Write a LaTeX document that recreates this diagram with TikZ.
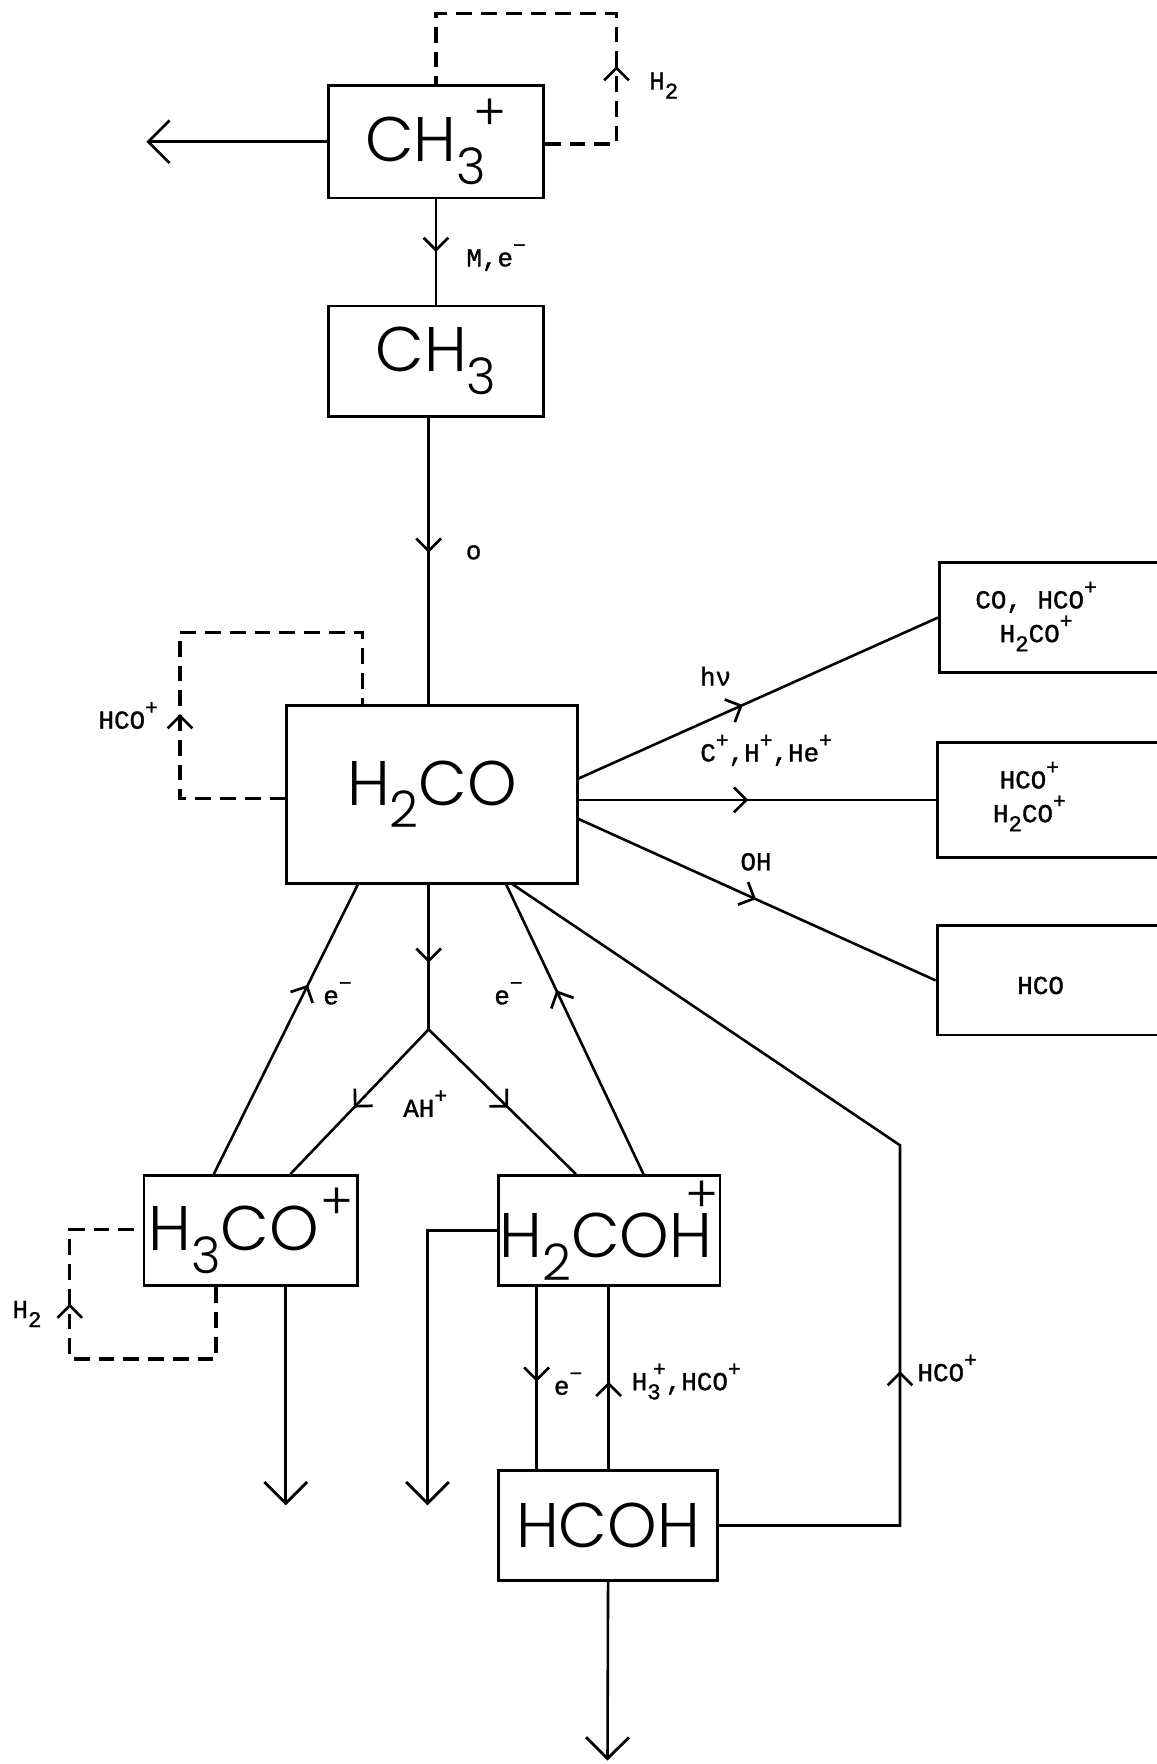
\documentclass[tikz,border=0pt]{standalone}
\usepackage{fontspec}
\usetikzlibrary{arrows.meta,decorations.markings}
\newfontfamily\bigf{Poppins Light}
\newfontfamily\tw{Liberation Mono}[FakeBold=1.2]
\newcommand\bsub[1]{\raisebox{-0.36em}{\scalebox{0.8}{#1}}}
\newcommand\bsup[1]{\raisebox{0.5em}{\scalebox{0.8}{#1}}}
\newcommand\tsp[1]{\raisebox{0.55em}{\fontsize{19}{19}\selectfont #1}}
\newcommand\tsb[1]{\raisebox{-0.35em}{\fontsize{20}{20}\selectfont #1}}
\begin{document}
\begin{tikzpicture}[x=1pt,y=-1pt,
  box/.style={draw,line width=2.6pt,inner sep=0pt,font=\bigf\fontsize{56}{60}\selectfont},
  sbox/.style={draw,line width=2.6pt,inner sep=0pt},
  lbl/.style={font=\tw\fontsize{23}{30}\selectfont,inner sep=0pt},
  ln/.style={line width=2.3pt},
  dl/.style={line width=3pt,dash pattern=on 14pt off 8pt},
  midtip/.tip={Straight Barb[length=11pt,width=22pt,line width=2.4pt]},
  endtip/.tip={Straight Barb[length=19pt,width=38pt,line width=2.5pt]},
  mid/.style={postaction={decorate},decoration={markings,mark=at position #1 with {\arrow{midtip}}}},
  fin/.style={-endtip}]
\useasboundingbox (0,0) rectangle (1028,1568);

% boxes
\node[box,minimum width=191pt,minimum height=100pt] (ch3p) at (387.5,126) {CH\bsub{3}\kern-0.2em\bsup{+}};
\node[box,minimum width=191pt,minimum height=98pt] (ch3) at (387.5,321) {CH\bsub{3}};
\node[box,minimum width=258pt,minimum height=158pt] (h2co) at (384,706) {H\bsub{2}CO};
\node[sbox,minimum width=205pt,minimum height=98pt] (r1) at (937.5,549) {};
\node[sbox,minimum width=207pt,minimum height=102pt] (r2) at (936.5,711) {};
\node[sbox,minimum width=207pt,minimum height=97pt] (r3) at (936.5,871.5) {};
\node[box,minimum width=190pt,minimum height=98pt] (h3co) at (223,1094) {H\bsub{3}CO\kern0.02em\bsup{+}};
\node[box,minimum width=197pt,minimum height=98pt] (h2coh) at (541.5,1094) {H\bsub{2}COH\kern-0.42em\raisebox{0.72em}{\scalebox{0.8}{+}}};
\node[box,minimum width=195pt,minimum height=98pt] (hcoh) at (540.5,1356) {HCOH};

% box texts on the right
\node[lbl,align=center] (t1) at (921,548) {CO, HCO\tsp{+}\\H\tsb{2}CO\tsp{+}};
\node[lbl,align=center] (t2) at (915,708) {HCO\tsp{+}\\H\tsb{2}CO\tsp{+}};
\node[lbl] (t3) at (925,876) {HCO};

% labels
\node[lbl] (lH2a) at (590,76) {H\tsb{2}};
\node[lbl] (lMe) at (441,229) {M,e\tsp{−}};
\node[lbl] (lO) at (421,491) {o};
\node[lbl] (lHCOa) at (114,636) {HCO\tsp{+}};
\node[lbl] (lhv) at (636,601) {hν};
\node[lbl] (lCHHe) at (681,667) {C\tsp{+},H\tsp{+},He\tsp{+}};
\node[lbl] (lOH) at (672,766) {OH};
\node[lbl] (le1) at (300,883) {e\tsp{−}};
\node[lbl] (le2) at (452,883) {e\tsp{−}};
\node[lbl] (lAH) at (378,981) {AH\tsp{+}};
\node[lbl] (lH2b) at (24,1168) {H\tsb{2}};
\node[lbl] (le3) at (505,1230) {e\tsp{−}};
\node[lbl] (lH3) at (610,1228) {H\tsb{3}\kern-0.3em\tsp{+},HCO\tsp{+}};
\node[lbl] (lHCOb) at (842,1216) {HCO\tsp{+}};

% coordinates
\coordinate (eL) at (130,126);
\coordinate (j) at (381,915);
\coordinate (k) at (800,1018);
\coordinate (e1) at (254,1338);
\coordinate (e2) at (380,1338);
\coordinate (e3) at (540,1565);

% top part
\draw[ln,fin] (ch3p.west) -- (eL);
\draw[dl,mid=133pt] (ch3p.east |- 0,128) -- (548,128) -- (548,12) -- (ch3p.north |- 0,12) -- (ch3p.north);
\draw[ln,mid=0.5] (ch3p.south) -- (ch3.north);
\draw[ln,mid=120pt] (ch3.south -| 381,0) -- (h2co.north -| 381,0);
\draw[dl,mid=169pt] (h2co.west |- 0,710) -- (160,710) -- (160,562) -- (322,562) -- (h2co.north -| 322,0);

% right branches
\draw[ln,mid=0.457] (h2co.east |- 0,692) -- (r1.west);
\draw[ln,mid=0.475] (h2co.east |- 0,711) -- (r2.west);
\draw[ln,mid=0.497] (h2co.east |- 0,728) -- (r3.west);

% lower branches
\draw[ln,mid=0.654] (h3co.north -| 190,0) -- (h2co.south -| 318,0);
\draw[ln,mid=0.54] (h2co.south -| 381,0) -- (j);
\draw[ln,mid=0.54] (j) -- (h3co.north -| 258,0);
\draw[ln,mid=0.54] (j) -- (h2coh.north -| 512,0);
\draw[ln,mid=0.635] (h2coh.north -| 572,0) -- (h2co.south -| 450,0);
\draw[ln,mid=298pt] (hcoh.east) -- (hcoh.east -| 800,0) -- (k) -- (h2co.south -| 456,0);

\draw[dl,mid=243pt] (h3co.south -| 192,0) -- (192,1208) -- (62,1208) -- (62,1093) -- (h3co.west |- 0,1093);
\draw[ln,fin] (h3co.south -| 254,0) -- (e1);
\draw[ln,fin] (h2coh.west) -- (h2coh.west -| 380,0) -- (e2);
\draw[ln,mid=0.52] (h2coh.south -| 477,0) -- (hcoh.north -| 477,0);
\draw[ln,mid=0.48] (hcoh.north -| 541,0) -- (h2coh.south -| 541,0);
\draw[ln,fin] (hcoh.south) -- (e3);
\end{tikzpicture}
\end{document}
